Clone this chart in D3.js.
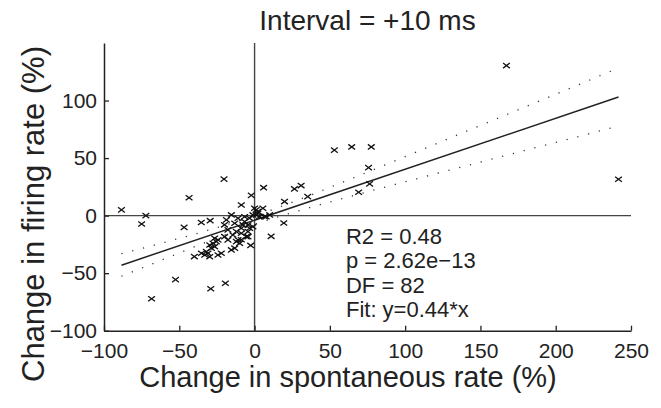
<!DOCTYPE html>
<html><head><meta charset="utf-8">
<script src="https://cdn.jsdelivr.net/npm/d3@7"></script>
<style>
html,body{margin:0;padding:0;background:#fff;}
text{font-family:"Liberation Sans",Arial,Helvetica,sans-serif;fill:#222;}
</style></head>
<body><svg id="c" width="661" height="408"></svg>
<script>
// ---- data ----
const pointsX = [167.3,241.7,53,64.5,77.5,75.7,76.4,30.9,26.5,19.9,35.3,69.1,19.4,11,6,-2.2,-8.8,-20.3,-43.5,-88.4,
  -72.2,-75,-46.8,-35.4,-29.5,-2.6,-40,-52.5,-29.1,-19.4,-68.4,0,5.5,6.6,3.3,10,-4.4,-8.8,-18.7,-15.4,
  -13.2,-11,-6.6,-4.4,-3.3,-1.1,1.1,2.2,-17.7,-14.4,-12.1,-8.8,-26.5,-24.3,-19.9,-17.7,-11,-9.9,-29.8,-27.6,
  -35.3,-33.1,-31,-29.8,-32,-28.7,-25.4,-26.5,-24.3,-22.1,-15.4,-13.2,-12.1,-8.8,-5.5,-4.4,-1.1,-3.3,-7.7,7.7,
  -6.6,-20,1.1,2.2];
const pointsY = [130.4,31.6,56.9,59.7,59.7,41.7,27.6,26.1,23.2,12.2,16.5,20.3,-6.4,-18,24.3,17.6,9.2,31.7,15.5,5,
  0,-7.3,-10.2,-6,-4.4,-25.9,-35.6,-55.6,-63.5,-58.8,-72.2,6.4,6.4,-0.9,-0.9,0.6,-18.3,-21,-3.7,0.6,
  -6.6,-2.3,-5.2,-8.1,-11,-9.6,0.6,3.5,-12.4,-16.8,-13.9,-11,-19.7,-21.1,-18.3,-21.1,-21.1,-24,-25.5,-24,
  -32.7,-34.2,-32.7,-35.7,-31.3,-28.3,-22.6,-27,-34.2,-32.7,-29.8,-28.3,-22.6,-15.3,-18.3,-13.9,0.6,-2.3,-8.1,-1,
  -1,-8,5,2.1];
const fitSlope = 0.4425, fitIntercept = -3.95;
const bandX     = [-88.4,-60,-30,0,30,60,100,140,180,220,241.7];
const bandUpper = [-33.1,-23.3,-12.4,-0.25,14.1,29.8,51.2,72.9,94.6,116.4,128.3];
const bandLower = [-52.7,-37.7,-22.0,-7.65,4.5,15.4,29.4,43.1,56.8,70.4,77.9];
const xTicks = [-100,-50,0,50,100,150,200,250];
const yTicks = [-100,-50,0,50,100];
const statsText = ["R2 = 0.48","p = 2.62e\u221213","DF = 82","Fit: y=0.44*x"];
const titleText = "Interval = +10 ms";
const xLabel = "Change in spontaneous rate (%)";
const yLabel = "Change in firing rate (%)";

// ---- drawing ----
const svg = d3.select("#c");
svg.append("rect").attr("width",661).attr("height",408).attr("fill","#fff");
const x = d3.scaleLinear().domain([-100,250]).range([104,631]);
const y = d3.scaleLinear().domain([-100,150]).range([330.7,43]);

// zero lines
svg.append("line").attr("x1",x(-100)).attr("x2",x(250)).attr("y1",y(0)).attr("y2",y(0))
  .attr("stroke","#444").attr("stroke-width",1.4);
svg.append("line").attr("x1",x(0)).attr("x2",x(0)).attr("y1",y(150)).attr("y2",y(-100))
  .attr("stroke","#444").attr("stroke-width",1.4);

// axes
const gy = svg.append("g").attr("transform",`translate(${x(-100)},0)`)
  .call(d3.axisLeft(y).tickValues(yTicks).tickSize(-5).tickSizeOuter(0).tickPadding(7));
const gx = svg.append("g").attr("transform",`translate(0,${y(-100)})`)
  .call(d3.axisBottom(x).tickValues(xTicks).tickSize(-5).tickSizeOuter(0).tickPadding(12));
[gx,gy].forEach(g=>{
  g.selectAll("path.domain").attr("stroke","#222").attr("stroke-width",1.5);
  g.selectAll(".tick line").attr("stroke","#222").attr("stroke-width",1.3);
  g.selectAll(".tick text").attr("font-size",21).attr("font-family","Liberation Sans, Arial, sans-serif").attr("fill","#222");
});

// fit line
const x0 = d3.min(pointsX), x1 = d3.max(pointsX);
svg.append("line").attr("x1",x(x0)).attr("y1",y(fitSlope*x0+fitIntercept))
  .attr("x2",x(x1)).attr("y2",y(fitSlope*x1+fitIntercept))
  .attr("stroke","#222").attr("stroke-width",1.5);

// confidence bands
const bandLine = vals => d3.line().x((d,i)=>x(bandX[i])).y(d=>y(d)).curve(d3.curveMonotoneX)(vals);
[bandUpper,bandLower].forEach(v=>{
  svg.append("path").attr("d",bandLine(v)).attr("fill","none")
    .attr("stroke","#333").attr("stroke-width",1.3).attr("stroke-dasharray","1.2,9.9");
});

// markers
const s = 3.4;
const pts = svg.append("g");
pointsX.forEach((px,i)=>{
  const cx = x(px), cy = y(pointsY[i]);
  pts.append("path").attr("d",`M${cx-s},${cy-s*0.75}L${cx+s},${cy+s*0.75}M${cx-s},${cy+s*0.75}L${cx+s},${cy-s*0.75}`)
    .attr("stroke","#111").attr("stroke-width",1.3).attr("fill","none");
});

// stats text
statsText.forEach((t,i)=>{
  svg.append("text").attr("x",x(60.7)).attr("y",244+i*24.3).attr("font-size",22).text(t);
});

// title and labels
svg.append("text").attr("x",(x(-100)+x(250))/2).attr("y",30).attr("text-anchor","middle")
  .attr("font-size",28).text(titleText);
svg.append("text").attr("x",348).attr("y",387).attr("text-anchor","middle")
  .attr("font-size",29).text(xLabel);
svg.append("text").attr("transform",`translate(44,214) rotate(-90)`)
  .attr("text-anchor","middle").attr("font-size",31).text(yLabel);
</script></body></html>
